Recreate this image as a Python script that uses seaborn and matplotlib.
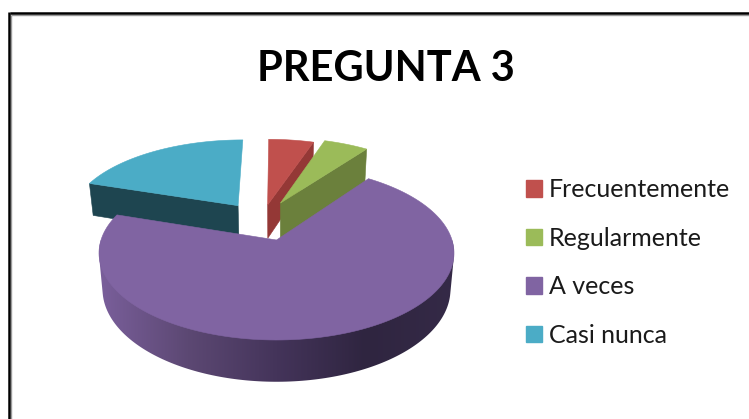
import numpy as np
import matplotlib
matplotlib.use("Agg")
import matplotlib.pyplot as plt
from matplotlib.patches import Polygon, Patch
import seaborn as sns

# Data
categories = ["Frecuentemente", "Regularmente", "A veces", "Casi nunca"]
values = [5, 5, 70, 20]
title_text = "PREGUNTA 3"

# Styles
top_colors = ["#C0504D", "#9BBB59", "#8064A2", "#4BACC6"]
side_colors = ["#943836", "#6B803C", "#5A4672", "#1E4550"]
explode_u = [-0.054, 0.024, 0.0, -0.233]
explode_v = [0.44, 0.465, 0.0, 0.43]
wall_extra = [1.0, 1.14, 1.0, 1.0]
draw_order = [3, 0, 1, 2]

sns.set_theme(style="white")
plt.rcParams["font.family"] = ["Lato", "DejaVu Sans"]

fig = plt.figure(figsize=(7.49, 4.19), dpi=100, facecolor="white")
ax = fig.add_axes([0, 0, 1, 1])
ax.set_xlim(0, 749)
ax.set_ylim(419, 0)
ax.axis("off")

# Projection of the 3D pie
CX, CY, RX, RY, DEPTH, K = 276.5, 240.0, 175.5, 85.0, 35.5, 0.15


def project(u, v, low=False, extra=1.0):
    s = 1.0 / (1.0 + K * v)
    x = CX + RX * u * s
    y = CY - RY * v * s
    if low:
        x = CX + (x - CX) * 0.98
        y = y + DEPTH * s * extra
    return x, y


def arc(t0, t1, ou, ov, n=160):
    th = np.radians(np.linspace(t0, t1, n))
    return ou + np.sin(th), ov + np.cos(th)


def convex_hull(points):
    pts = sorted(set(points))

    def half(seq):
        out = []
        for p in seq:
            while len(out) > 1 and ((out[-1][0] - out[-2][0]) * (p[1] - out[-2][1])
                                    - (out[-1][1] - out[-2][1]) * (p[0] - out[-2][0])) <= 0:
                out.pop()
            out.append(p)
        return out[:-1]

    return half(pts) + half(pts[::-1])


edges = np.cumsum([0] + values) / sum(values) * 360.0
start, end = edges[:-1], edges[1:]


def radial_face(i, theta, z):
    ou, ov = explode_u[i], explode_v[i]
    t = np.radians(theta)
    pu, pv = ou + np.sin(t), ov + np.cos(t)
    e = wall_extra[i]
    pts = [project(ou, ov), project(pu, pv), project(pu, pv, True, e), project(ou, ov, True, e)]
    ax.add_patch(Polygon(pts, closed=True, fc=side_colors[i], ec=side_colors[i], lw=0.4, zorder=z))


# Gradient for the outer wall of the large slice
wall_palette = sns.blend_palette(["#7A5F9B", "#5C4873", "#44345A", "#2F2540", "#352A47"], n_colors=256)


def outer_wall(i, z):
    ou, ov = explode_u[i], explode_v[i]
    us, vs = arc(90.0, 270.0, ou, ov)
    upper = [project(u, v) for u, v in zip(us, vs)]
    lower = [project(u, v, True) for u, v in zip(us, vs)]
    hull = convex_hull(upper + lower)
    clip = Polygon(hull, closed=True, fc="none", ec="none", transform=ax.transData)
    ax.add_patch(clip)
    xs = [p[0] for p in hull]
    ys = [p[1] for p in hull]
    img = np.array(wall_palette)[None, :, :]
    im = ax.imshow(img, extent=[min(xs), max(xs), max(ys), min(ys)], aspect="auto",
                   interpolation="bilinear", zorder=z)
    im.set_clip_path(clip)
    ax.set_xlim(0, 749)
    ax.set_ylim(419, 0)


def top_face(i, z):
    ou, ov = explode_u[i], explode_v[i]
    us, vs = arc(start[i], end[i], ou, ov)
    pts = [project(ou, ov)] + [project(u, v) for u, v in zip(us, vs)]
    ax.add_patch(Polygon(pts, closed=True, fc=top_colors[i], ec=top_colors[i], lw=0.4, zorder=z))


# Slices painted back to front, each wall under its own top
for order, i in enumerate(draw_order):
    z = 10 + order
    if categories[i] == "A veces":
        outer_wall(i, z)
    elif categories[i] == "Casi nunca":
        radial_face(i, start[i], z)
    else:
        radial_face(i, end[i], z)
    top_face(i, z + 0.5)

# Frame: only the top and left edges are visible
ax.plot([9.5, 749], [13.2, 13.2], color="black", lw=1.8, solid_capstyle="butt", zorder=20)
ax.plot([9.2, 9.2], [12.5, 419], color="black", lw=1.8, solid_capstyle="butt", zorder=20)
ax.plot([11.3, 749], [15.3, 15.3], color="#9A9A9A", lw=1.0, solid_capstyle="butt", zorder=19)
ax.plot([11.2, 11.2], [15, 419], color="#9A9A9A", lw=1.0, solid_capstyle="butt", zorder=19)

ax.text(386, 69, title_text, ha="center", va="center", fontsize=30, fontweight="bold", color="black")

handles = [Patch(facecolor=c, edgecolor=c, label=l) for c, l in zip(top_colors, categories)]
ax.legend(handles=handles, loc="center left", bbox_to_anchor=(526 / 749, 1 - 262.5 / 419),
          frameon=False, fontsize=18, labelspacing=1.02, handlelength=0.64, handleheight=0.64,
          handletextpad=0.28, borderpad=0, borderaxespad=0, labelcolor="#1a1a1a")

fig.savefig("out.png", dpi=100, facecolor="white")
